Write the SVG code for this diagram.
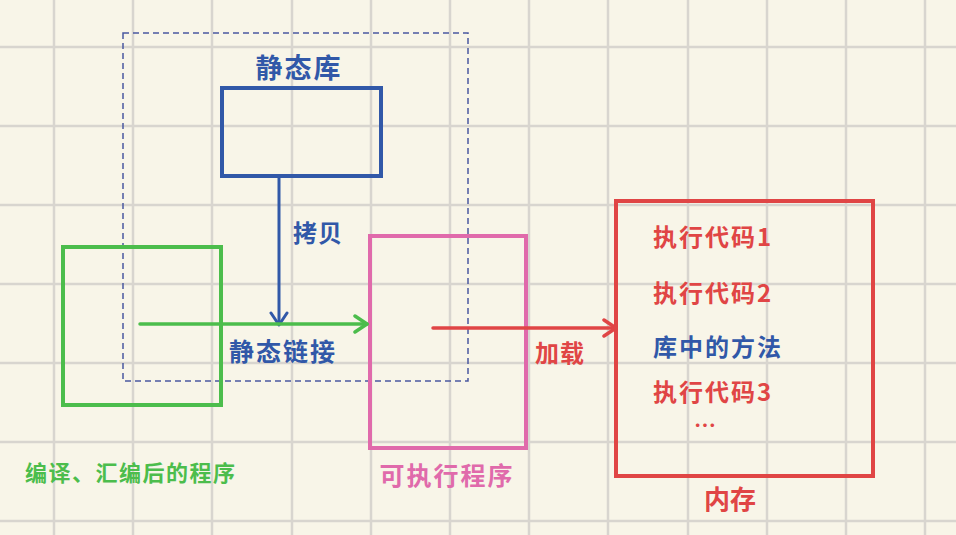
<svg xmlns="http://www.w3.org/2000/svg" width="956" height="535" viewBox="0 0 956 535">
<defs>
<style>
.grid line{stroke:#d8d5cf;stroke-width:2.5}
text{font-family:"Noto Sans CJK SC","Noto Sans",sans-serif;font-weight:700}
.box{fill:none;stroke-width:4}
.blue{fill:#3158a8}
.red{fill:#e04545}
.green{fill:#4cbd4c}
.pink{fill:#e06aab}
.mem{font-size:24px;letter-spacing:2px}
</style>
<marker id="ab" viewBox="0 0 20 20" refX="18" refY="10" markerWidth="20" markerHeight="20" markerUnits="userSpaceOnUse" orient="auto"><path d="M6,2 L18,10 L6,18" fill="none" stroke="#3158a8" stroke-width="3" stroke-linecap="round" stroke-linejoin="round"/></marker>
<marker id="ag" viewBox="0 0 20 20" refX="18" refY="10" markerWidth="20" markerHeight="20" markerUnits="userSpaceOnUse" orient="auto"><path d="M6,2 L18,10 L6,18" fill="none" stroke="#4cbd4c" stroke-width="3.5" stroke-linecap="round" stroke-linejoin="round"/></marker>
<marker id="ar" viewBox="0 0 20 20" refX="18" refY="10" markerWidth="20" markerHeight="20" markerUnits="userSpaceOnUse" orient="auto"><path d="M6,2 L18,10 L6,18" fill="none" stroke="#e04545" stroke-width="3.5" stroke-linecap="round" stroke-linejoin="round"/></marker>
</defs>
<rect width="956" height="535" fill="#f8f5e8"/>
<g class="grid">
<line x1="54" y1="0" x2="54" y2="535"/><line x1="133" y1="0" x2="133" y2="535"/><line x1="212" y1="0" x2="212" y2="535"/><line x1="292" y1="0" x2="292" y2="535"/><line x1="371" y1="0" x2="371" y2="535"/><line x1="450" y1="0" x2="450" y2="535"/><line x1="529" y1="0" x2="529" y2="535"/><line x1="608" y1="0" x2="608" y2="535"/><line x1="688" y1="0" x2="688" y2="535"/><line x1="767" y1="0" x2="767" y2="535"/><line x1="846" y1="0" x2="846" y2="535"/><line x1="925" y1="0" x2="925" y2="535"/>
<line x1="0" y1="47" x2="956" y2="47"/><line x1="0" y1="126" x2="956" y2="126"/><line x1="0" y1="205" x2="956" y2="205"/><line x1="0" y1="284" x2="956" y2="284"/><line x1="0" y1="363" x2="956" y2="363"/><line x1="0" y1="442" x2="956" y2="442"/><line x1="0" y1="521" x2="956" y2="521"/>
</g>
<g id="static-link-scope">
<rect x="123" y="33" width="345" height="348" fill="none" stroke="#4a58a0" stroke-width="1.5" stroke-dasharray="6 4"/>
</g>
<g id="static-lib">
<rect class="box" x="222" y="88" width="159" height="88" stroke="#3158a8"/>
<text class="blue" x="299" y="78" font-size="27" letter-spacing="2" text-anchor="middle">静态库</text>
</g>
<g id="compiled">
<rect class="box" x="63" y="247" width="158" height="158" stroke="#4cbd4c"/>
<text class="green" x="25" y="481" font-size="22" letter-spacing="1.5">编译、汇编后的程序</text>
</g>
<g id="executable">
<rect class="box" x="370" y="236" width="156" height="212" stroke="#e06aab"/>
<text class="pink" x="447" y="485" font-size="25" letter-spacing="2" text-anchor="middle">可执行程序</text>
</g>
<g id="memory">
<rect class="box" x="616" y="201" width="257" height="275" stroke="#e04545"/>
<text class="red mem" x="653" y="246">执行代码1</text>
<text class="red mem" x="653" y="302">执行代码2</text>
<text class="blue mem" x="653" y="356" font-weight="400">库中的方法</text>
<text class="red mem" x="653" y="401">执行代码3</text>
<text class="red" x="705" y="433" font-size="22" text-anchor="middle">…</text>
<text class="red" x="730" y="509" font-size="26" text-anchor="middle">内存</text>
</g>
<g id="connectors">
<line x1="279" y1="176" x2="279" y2="325" stroke="#3158a8" stroke-width="3" marker-end="url(#ab)"/>
<text class="blue" x="318" y="242" font-size="24" letter-spacing="1" text-anchor="middle">拷贝</text>
<line x1="140" y1="324" x2="367" y2="324" stroke="#4cbd4c" stroke-width="3.5" stroke-linecap="round" marker-end="url(#ag)"/>
<text class="blue" x="283" y="361" font-size="25" letter-spacing="2" text-anchor="middle">静态链接</text>
<line x1="433" y1="328" x2="616" y2="328" stroke="#e04545" stroke-width="3.5" stroke-linecap="round" marker-end="url(#ar)"/>
<text class="red" x="560" y="362" font-size="24" letter-spacing="1" text-anchor="middle">加载</text>
</g>
</svg>
